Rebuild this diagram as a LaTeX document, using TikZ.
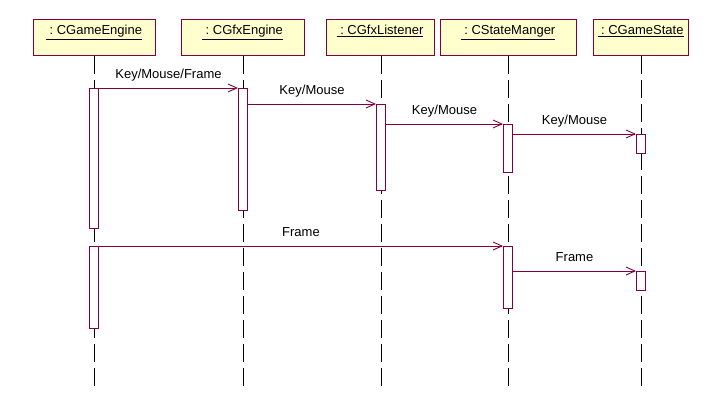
\documentclass[tikz,border=0pt]{standalone}
\usepackage{fontspec}
\setmainfont{Liberation Sans}
\usetikzlibrary{arrows.meta, positioning}

\definecolor{umlline}{RGB}{128,0,64}
\definecolor{umlfill}{RGB}{255,255,206}

\tikzset{
    object/.style={draw=umlline, fill=umlfill, line width=0.9pt, inner ysep=0pt,
                   text height=15.5pt, text depth=20.5pt, anchor=north,
                   font=\fontsize{13pt}{15pt}\selectfont},
    activation/.style={draw=umlline, fill=white, line width=0.9pt, inner sep=0pt,
                       minimum width=9pt, anchor=north},
    lifeline/.style={line width=0.9pt, dash pattern=on 18pt off 6pt},
    message/.style={umlline, line width=0.9pt, -{Straight Barb[length=9pt,width=8pt]}},
    msglabel/.style={above=9.5pt, inner sep=0pt, text depth=0pt,
                     font=\fontsize{13pt}{15pt}\selectfont, text=black}
}

\begin{document}
\begin{tikzpicture}[x=1pt, y=-1pt]
    \useasboundingbox (0,0) rectangle (722,409);

    % Objects
    \node[object, minimum width=122pt] (engine)   at (94,19)    {\underline{\ :\ CGameEngine}};
    \node[object, minimum width=123pt] (gfx)      at (242.5,19) {\underline{\ :\ CGfxEngine}};
    \node[object, minimum width=108pt] (listener) at (380,19)   {\underline{\ :\ CGfxListener}};
    \node[object, minimum width=136pt] (manager)  at (508,19)   {\underline{\ :\ CStateManger}};
    \node[object, minimum width=95pt]  (state)    at (640.5,19) {\underline{\ :\ CGameState}};

    % Lifelines
    \foreach \obj/\x in {engine/94, gfx/243, listener/381, manager/508, state/641} {
        \draw[lifeline] (\x,0 |- \obj.south) -- (\x,387);
    }

    % Activations
    \node[activation, minimum height=140pt] (engineA)   at (94,88)   {};
    \node[activation, minimum height=82pt]  (engineB)   at (94,246)  {};
    \node[activation, minimum height=122pt] (gfxA)      at (243,88)  {};
    \node[activation, minimum height=86pt]  (listenerA) at (381,104) {};
    \node[activation, minimum height=48pt]  (managerA)  at (508,124) {};
    \node[activation, minimum height=62pt]  (managerB)  at (508,246) {};
    \node[activation, minimum height=19pt]  (stateA)    at (641,134) {};
    \node[activation, minimum height=19pt]  (stateB)    at (641,271) {};

    % Messages
    \draw[message] (engineA.north east) -- (gfxA.north west)
        node[midway, msglabel] {Key/Mouse/Frame};
    \draw[message] (gfxA.east |- listenerA.north) -- (listenerA.north west)
        node[midway, msglabel] {Key/Mouse};
    \draw[message] (listenerA.east |- managerA.north) -- (managerA.north west)
        node[midway, msglabel] {Key/Mouse};
    \draw[message] (managerA.east |- stateA.north) -- (stateA.north west)
        node[midway, msglabel] {Key/Mouse};
    \draw[message] (engineB.north east) -- (managerB.north west)
        node[midway, msglabel] {Frame};
    \draw[message] (managerB.east |- stateB.north) -- (stateB.north west)
        node[midway, msglabel] {Frame};
\end{tikzpicture}
\end{document}
